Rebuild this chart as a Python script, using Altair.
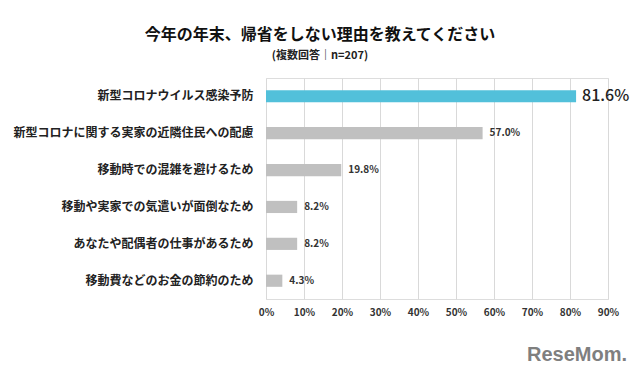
import altair as alt
import pandas as pd

categories = [
    "新型コロナウイルス感染予防",
    "新型コロナに関する実家の近隣住民への配慮",
    "移動時での混雑を避けるため",
    "移動や実家での気遣いが面倒なため",
    "あなたや配偶者の仕事があるため",
    "移動費などのお金の節約のため",
]
values = [81.6, 57.0, 19.8, 8.2, 8.2, 4.3]
x_ticks = [0, 10, 20, 30, 40, 50, 60, 70, 80, 90]

title_text = "今年の年末、帰省をしない理由を教えてください"
subtitle_text = "(複数回答｜n=207)"
watermark = "ReseMom."

df = pd.DataFrame({"reason": categories, "value": values})
top = categories[0]

FONT = "Noto Sans CJK JP"

y_enc = alt.Y(
    "reason:N",
    sort=categories,
    title=None,
    axis=alt.Axis(
        domain=False, ticks=False, labelPadding=13, labelFontSize=12,
        labelFontWeight="bold", labelColor="#222222", labelFont=FONT,
        labelLimit=300,
    ),
    scale=alt.Scale(paddingInner=0.67, paddingOuter=0.33),
)
x_enc = alt.X(
    "value:Q",
    title=None,
    scale=alt.Scale(domain=[0, 90], nice=False, zero=True),
    axis=alt.Axis(
        values=x_ticks, tickCount=10, domain=False, ticks=False, grid=True,
        gridColor="#D9D9D9", gridWidth=1, labelPadding=8,
        labelFontSize=10, labelFontWeight="bold", labelColor="#333333",
        labelFont=FONT, labelExpr="datum.value + '%'", labelOverlap=False,
        labelFlush=False,
    ),
)

base = alt.Chart(df).transform_calculate(
    label="format(datum.value, '.1f') + '%'"
).encode(y=y_enc, x=x_enc)

bars = base.mark_bar().encode(
    color=alt.condition(
        alt.datum.reason == top, alt.value("#52C0DA"), alt.value("#C0C0C0")
    ),
)

labels_small = base.transform_filter(alt.datum.reason != top).mark_text(
    align="left", baseline="middle", dx=7, fontSize=10, fontWeight="bold",
    color="#333333", font=FONT,
).encode(text="label:N")

labels_big = base.transform_filter(alt.datum.reason == top).mark_text(
    align="left", baseline="middle", dx=6, fontSize=16, fontWeight=500,
    color="#222222", font=FONT,
).encode(text="label:N")

wm = alt.Chart(pd.DataFrame({"t": [watermark]})).mark_text(
    align="right", baseline="alphabetic", fontSize=20, fontWeight="bold",
    color="#7F7F7F", font="Liberation Sans",
).encode(x=alt.value(361), y=alt.value(283), text="t:N")

chart = alt.layer(bars, labels_small, labels_big, wm).properties(
    width=342,
    height=221,
    title=alt.TitleParams(
        text=title_text,
        subtitle=subtitle_text,
        anchor="middle",
        frame="group",
        dx=-117,
        offset=17,
        fontSize=16,
        fontWeight="bold",
        font=FONT,
        color="#111111",
        subtitleFontSize=11,
        subtitleFontWeight="bold",
        subtitleFont=FONT,
        subtitleColor="#222222",
        subtitlePadding=7,
    ),
    autosize=alt.AutoSizeParams(type="none"),
    padding={"left": 266, "top": 78, "right": 32, "bottom": 77},
).configure_view(stroke=None).configure(background="white")

chart.save("out.html", embed_options={"renderer": "svg", "actions": False})
